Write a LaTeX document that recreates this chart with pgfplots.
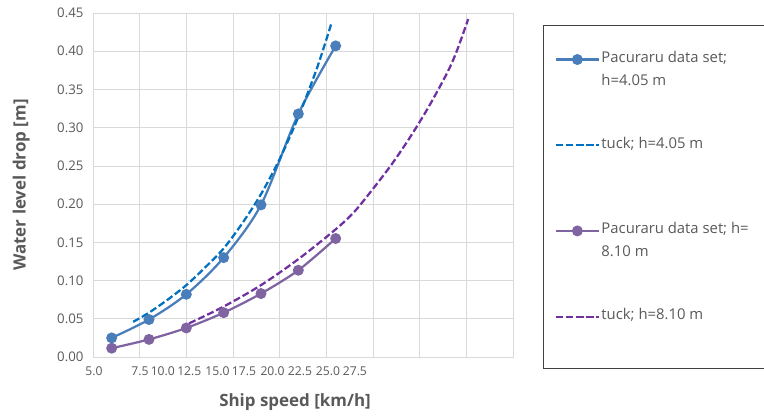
\documentclass[border=0pt]{standalone}
\usepackage{pgfplots}
\pgfplotsset{compat=1.18}
\usepackage{fontspec}
\setmainfont{Open Sans}
\definecolor{pacblue}{RGB}{74,126,187}
\definecolor{tuckblue}{RGB}{0,112,192}
\definecolor{pacpurple}{RGB}{128,100,162}
\definecolor{tuckpurple}{RGB}{112,48,160}
\definecolor{txtgray}{RGB}{89,89,89}
\definecolor{gridgray}{RGB}{217,217,217}
\definecolor{boxgray}{RGB}{64,64,64}

\newcommand{\twolines}[2]{\vtop{\hbox{#1}\hbox{#2}}}

\begin{document}
\begin{tikzpicture}
\useasboundingbox (0,0) rectangle (764bp,416bp);
\draw[boxgray, line width=0.8bp] (543bp,48bp) rectangle (790bp,391bp);
\begin{axis}[
  at={(93bp,59bp)}, anchor=south west,
  scale only axis, width=420bp, height=344bp,
  xmin=5, xmax=27.5, ymin=0, ymax=0.45,
  xtick={5,7.5,10,12.5,15,17.5,20,22.5,25,27.5},
  xticklabels={},
  extra x ticks={5.05,7.52,8.74,10.16,11.67,13.09,14.62,16.09,17.59,19.03},
  extra x tick labels={5.0,7.5,10.0,12.5,15.0,17.5,20.0,22.5,25.0,27.5},
  extra x tick style={grid=none, major tick length=0pt,
    xticklabel style={font=\fontsize{12.2}{15}\selectfont, text=txtgray, yshift=-6.5bp}},
  ytick={0,0.05,0.10,0.15,0.20,0.25,0.30,0.35,0.40,0.45},
  yticklabels={0.00,0.05,0.10,0.15,0.20,0.25,0.30,0.35,0.40,0.45},
  yticklabel style={font=\fontsize{13.3}{16}\selectfont, text=txtgray, xshift=-6bp},
  major tick length=0pt,
  grid=major,
  major grid style={gridgray, line width=0.75bp},
  axis line style={gridgray, line width=0.75bp},
  xlabel={Ship speed [km/h]},
  ylabel={Water level drop [m]},
  label style={font=\bfseries\fontsize{17}{20}\selectfont, text=txtgray},
  xlabel style={at={(axis description cs:0.481,-0.145)}, anchor=base},
  ylabel style={at={(axis description cs:-0.171,0.5)}, anchor=center},
  legend style={at={(1.093,0.901)}, anchor=north west, draw=none, fill=none,
    font=\fontsize{14.9}{23}\selectfont, text=txtgray,
    cells={anchor=base west, inner xsep=1.5bp},
    row sep={85.7bp,between origins}},
  legend image code/.code={\draw[mark repeat=2,mark phase=2,#1]
    plot coordinates {(0bp,0.3em)(21bp,0.3em)(42bp,0.3em)};},
]
\addplot[pacblue, line width=2.25bp, smooth, mark=*, mark size=4.3bp,
  mark options={solid, fill=pacblue, draw=pacblue}]
  coordinates {(6,0.025)(8,0.049)(10,0.082)(12,0.130)(14,0.199)(16,0.318)(18,0.407)};
\addlegendentry{\twolines{Pacuraru data set;}{h=4.05 m}}
\addplot[tuckblue, line width=2.25bp, smooth, dash pattern=on 7bp off 3bp]
  coordinates {(7.15,0.046)(8,0.058)(9,0.075)(10,0.094)(11,0.117)(12,0.142)
    (13,0.175)(14,0.213)(15,0.259)(16,0.314)(17,0.378)(17.78,0.437)};
\addlegendentry{tuck; h=4.05 m}
\addplot[pacpurple, line width=2.25bp, smooth, mark=*, mark size=4.3bp,
  mark options={solid, fill=pacpurple, draw=pacpurple}]
  coordinates {(6,0.0115)(8,0.023)(10,0.038)(12,0.058)(14,0.083)(16,0.1135)(18,0.155)};
\addlegendentry{\twolines{Pacuraru data set; h=}{8.10 m}}
\addplot[tuckpurple, line width=2.25bp, smooth, dash pattern=on 7bp off 3bp]
  coordinates {(10.15,0.044)(12,0.066)(14,0.094)(16,0.128)(18,0.167)(19,0.190)
    (20,0.220)(21,0.252)(22,0.288)(23,0.328)(24,0.373)(24.5,0.401)(25.1,0.442)};
\addlegendentry{tuck; h=8.10 m}
\end{axis}
\end{tikzpicture}
\end{document}
